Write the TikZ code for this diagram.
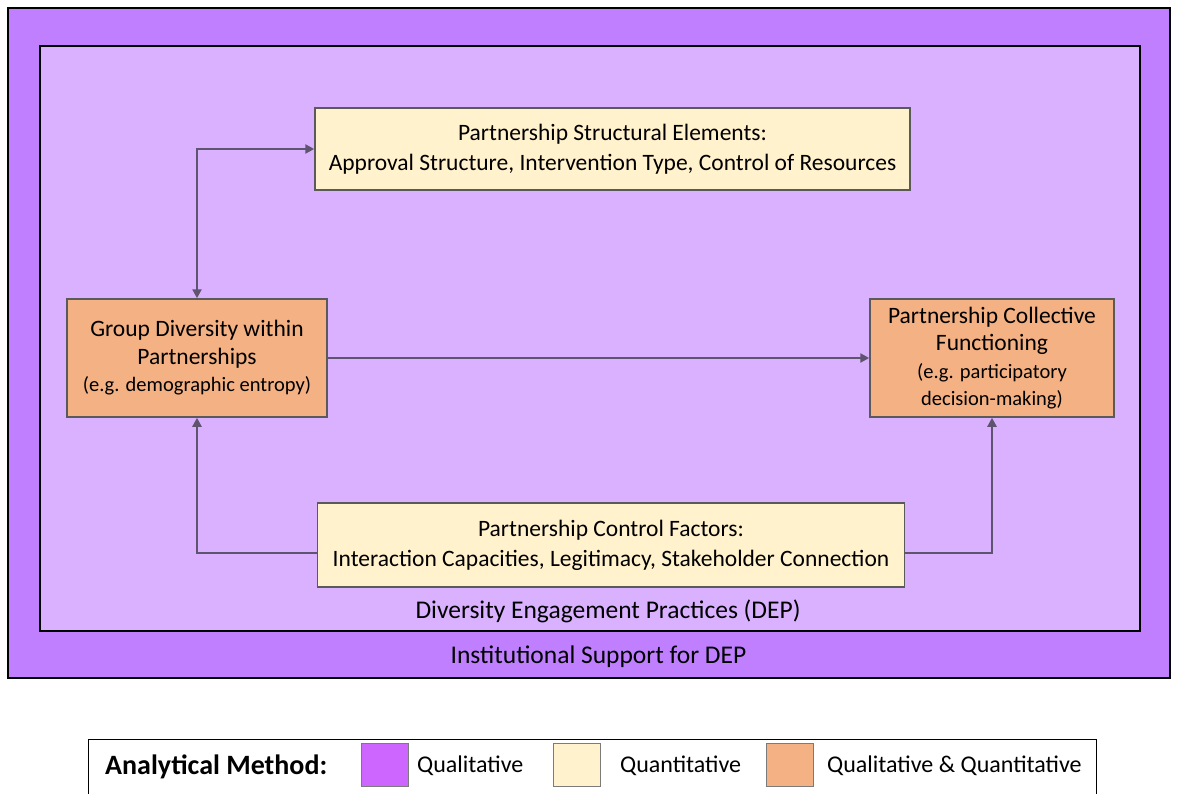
\documentclass[tikz,border=0pt]{standalone}
\usepackage{fontspec}
\setmainfont{Carlito}
\usetikzlibrary{arrows.meta}
\definecolor{outerpurple}{HTML}{BF7FFF}
\definecolor{innerpurple}{HTML}{D9B1FF}
\definecolor{cream}{HTML}{FFF2CC}
\definecolor{peach}{HTML}{F4B183}
\definecolor{boxedge}{HTML}{5A5A5A}
\definecolor{linkcol}{HTML}{5E5470}
\definecolor{swatchpurple}{HTML}{CC66FF}
\tikzset{
  frame/.style={draw=black, rectangle, inner sep=0pt},
  factorbox/.style={draw=boxedge, line width=1.5pt, fill=cream, rectangle, align=center,
    inner sep=0pt, font=\fontsize{23.5}{30}\selectfont},
  groupbox/.style={draw=boxedge, line width=1.5pt, fill=peach, rectangle, align=center,
    inner sep=0pt, font=\fontsize{23.5}{27.5}\selectfont},
  link/.style={draw=linkcol, line width=2.6pt, -{Triangle[length=9pt,width=9pt]}},
  biglabel/.style={font=\fontsize{25.5}{30}\selectfont},
  swatch/.style={draw=boxedge!80, line width=0.8pt, rectangle, minimum width=47pt, minimum height=43pt, inner sep=0pt},
  legendtext/.style={font=\fontsize{24}{28}\selectfont, inner sep=0pt, anchor=west},
}
\newcommand{\subnote}[1]{{\fontsize{20.5}{25}\selectfont #1}}
\begin{document}
\begin{tikzpicture}[x=1pt,y=-1pt]
\useasboundingbox (0,0) rectangle (1177,794);
\fill[white] (0,0) rectangle (1177,794);

% nested frames
\node (outer) [frame, line width=2.4pt, fill=outerpurple, minimum width=1162pt, minimum height=670pt] at (589,343) {};
\node (inner) [frame, line width=1.6pt, fill=innerpurple, minimum width=1100pt, minimum height=585pt] at (590,338.5) {};
\node (deplabel) [biglabel] at (608,611) {Diversity Engagement Practices (DEP)};
\node (instlabel) [biglabel] at (598.5,657) {Institutional Support for DEP};

% factor boxes
\node (struct) [factorbox, minimum width=595pt, minimum height=82pt] at (612.5,149)
  {Partnership Structural Elements:\\Approval Structure, Intervention Type, Control of Resources};
\node (control) [factorbox, minimum width=587pt, minimum height=84pt] at (611,545)
  {Partnership Control Factors:\\Interaction Capacities, Legitimacy, Stakeholder Connection};
\node (diversity) [groupbox, minimum width=260pt, minimum height=118pt] at (197,358)
  {Group Diversity within\\Partnerships\\\subnote{(e.g. demographic entropy)}};
\node (collective) [groupbox, minimum width=244pt, minimum height=118pt] at (992,358)
  {Partnership Collective\\Functioning\\\subnote{(e.g. participatory}\\\subnote{decision-making)}};

% connectors
\draw[link, {Triangle[length=9pt,width=9pt]}-{Triangle[length=9pt,width=9pt]}]
  (diversity.north) |- (struct.west);
\draw[link] (diversity.east) -- (collective.west);
\draw[link] ([yshift=-8pt]control.west) -| (diversity.south);
\draw[link] ([yshift=-8pt]control.east) -| (collective.south);

% legend
\node (legend) [frame, line width=1pt, fill=white, minimum width=1008pt, minimum height=60pt] at (592,769) {};
\node (legtitle) [font=\bfseries\fontsize{28}{32}\selectfont, inner sep=0pt, anchor=west] at (105,767) {Analytical Method:};
\node (swq) [swatch, fill=swatchpurple] at (384.5,764.5) {};
\node (lq) [legendtext] at (417,766) {Qualitative};
\node (swn) [swatch, fill=cream] at (577,764.5) {};
\node (ln) [legendtext] at (620,766) {Quantitative};
\node (swb) [swatch, fill=peach] at (789.5,764.5) {};
\node (lb) [legendtext] at (827,766) {Qualitative \& Quantitative};
\end{tikzpicture}
\end{document}
